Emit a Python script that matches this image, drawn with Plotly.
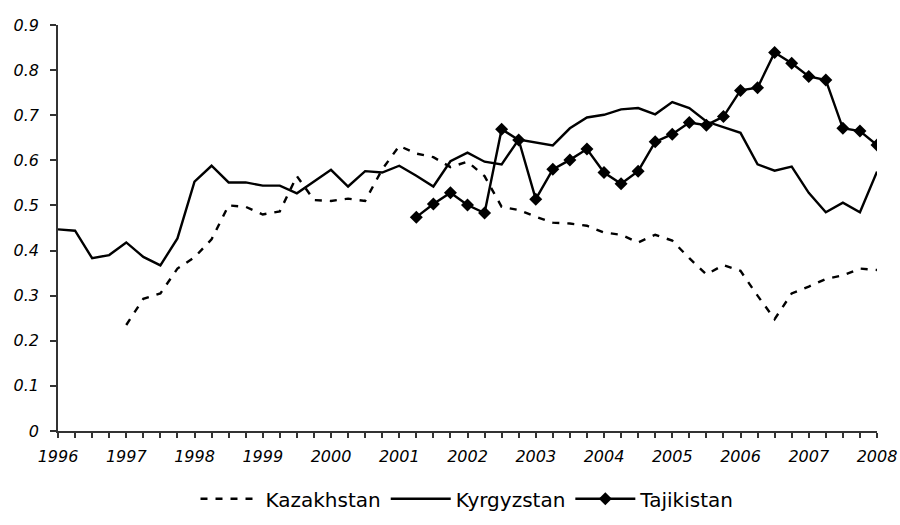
import plotly.graph_objects as go

# Quarterly observations, 1996Q1 .. 2008Q1
quarters = [1996 + 0.25 * i for i in range(49)]

kazakhstan = [None, None, None, None,
              0.235, 0.293, 0.305, 0.360, 0.385, 0.425, 0.500, 0.497,
              0.480, 0.487, 0.565, 0.512, 0.510, 0.515, 0.510, 0.580,
              0.632, 0.615, 0.607, 0.585, 0.597, 0.565, 0.497, 0.490,
              0.475, 0.462, 0.460, 0.455, 0.440, 0.435, 0.418, 0.435,
              0.422, 0.383, 0.347, 0.368, 0.355, 0.300, 0.248, 0.305,
              0.320, 0.337, 0.345, 0.360, 0.357]

kyrgyzstan = [0.447, 0.444, 0.383, 0.390, 0.418, 0.386, 0.367, 0.427,
              0.553, 0.588, 0.551, 0.551, 0.544, 0.544, 0.527, 0.553,
              0.579, 0.542, 0.576, 0.573, 0.588, 0.566, 0.542, 0.598,
              0.617, 0.597, 0.591, 0.646, 0.639, 0.633, 0.671, 0.695,
              0.701, 0.713, 0.716, 0.702, 0.729, 0.716, 0.686, 0.673,
              0.661, 0.591, 0.577, 0.586, 0.528, 0.485, 0.506, 0.485,
              0.575]

tajikistan = [None] * 21 + [
              0.474, 0.503, 0.528, 0.501, 0.483, 0.669, 0.645, 0.514,
              0.580, 0.601, 0.625, 0.573, 0.548, 0.576, 0.641, 0.658,
              0.684, 0.678, 0.697, 0.755, 0.761, 0.839, 0.815, 0.786,
              0.778, 0.671, 0.665, 0.634]

year_ticks = list(range(1996, 2009))
y_ticks = [0, 0.1, 0.2, 0.3, 0.4, 0.5, 0.6, 0.7, 0.8, 0.9]
y_labels = ["0", "0.1", "0.2", "0.3", "0.4", "0.5", "0.6", "0.7", "0.8", "0.9"]

FONT = "DejaVu Sans"

fig = go.Figure()
fig.add_trace(go.Scatter(x=quarters, y=kazakhstan, name="Kazakhstan", mode="lines",
                         line=dict(color="black", width=2.4, dash="7px,8px")))
fig.add_trace(go.Scatter(x=quarters, y=kyrgyzstan, name="Kyrgyzstan", mode="lines",
                         line=dict(color="black", width=2.4)))
fig.add_trace(go.Scatter(x=quarters, y=tajikistan, name="Tajikistan", mode="lines+markers",
                         line=dict(color="black", width=2.4),
                         marker=dict(symbol="diamond", size=10, color="black")))

fig.update_layout(
    width=900, height=525,
    paper_bgcolor="white", plot_bgcolor="white",
    margin=dict(l=58, r=23, t=25, b=94, autoexpand=False),
    font=dict(family=FONT, color="black"),
    showlegend=True,
    legend=dict(orientation="h", x=0.5, xanchor="center", y=-0.167, yanchor="middle",
                font=dict(family=FONT, size=20, color="black"),
                itemwidth=60, bgcolor="rgba(0,0,0,0)"),
)

fig.update_xaxes(
    range=[1996, 2008], tickmode="array", tickvals=year_ticks,
    ticktext=[str(y) for y in year_ticks],
    ticks="outside", ticklen=5, tickwidth=1.5, tickcolor="#333",
    minor=dict(dtick=0.25, tick0=1996, ticks="outside", ticklen=5, tickwidth=1.5, tickcolor="#333"),
    showline=True, linecolor="#333", linewidth=1.5,
    showgrid=False, zeroline=False, automargin=False,
    tickfont=dict(family=FONT, size=16, style="italic", color="black"),
    ticklabelstandoff=5,
)
fig.update_yaxes(
    range=[0, 0.9], tickmode="array", tickvals=y_ticks, ticktext=y_labels,
    ticks="outside", ticklen=6, tickwidth=1.5, tickcolor="#333",
    showline=True, linecolor="#333", linewidth=1.5,
    showgrid=False, zeroline=False, automargin=False,
    tickfont=dict(family=FONT, size=16, style="italic", color="black"),
    ticklabelstandoff=8,
)

fig.write_html("out.html", config={"displayModeBar": False},
               post_script="document.body.style.margin='0';document.body.style.overflow='hidden';")
